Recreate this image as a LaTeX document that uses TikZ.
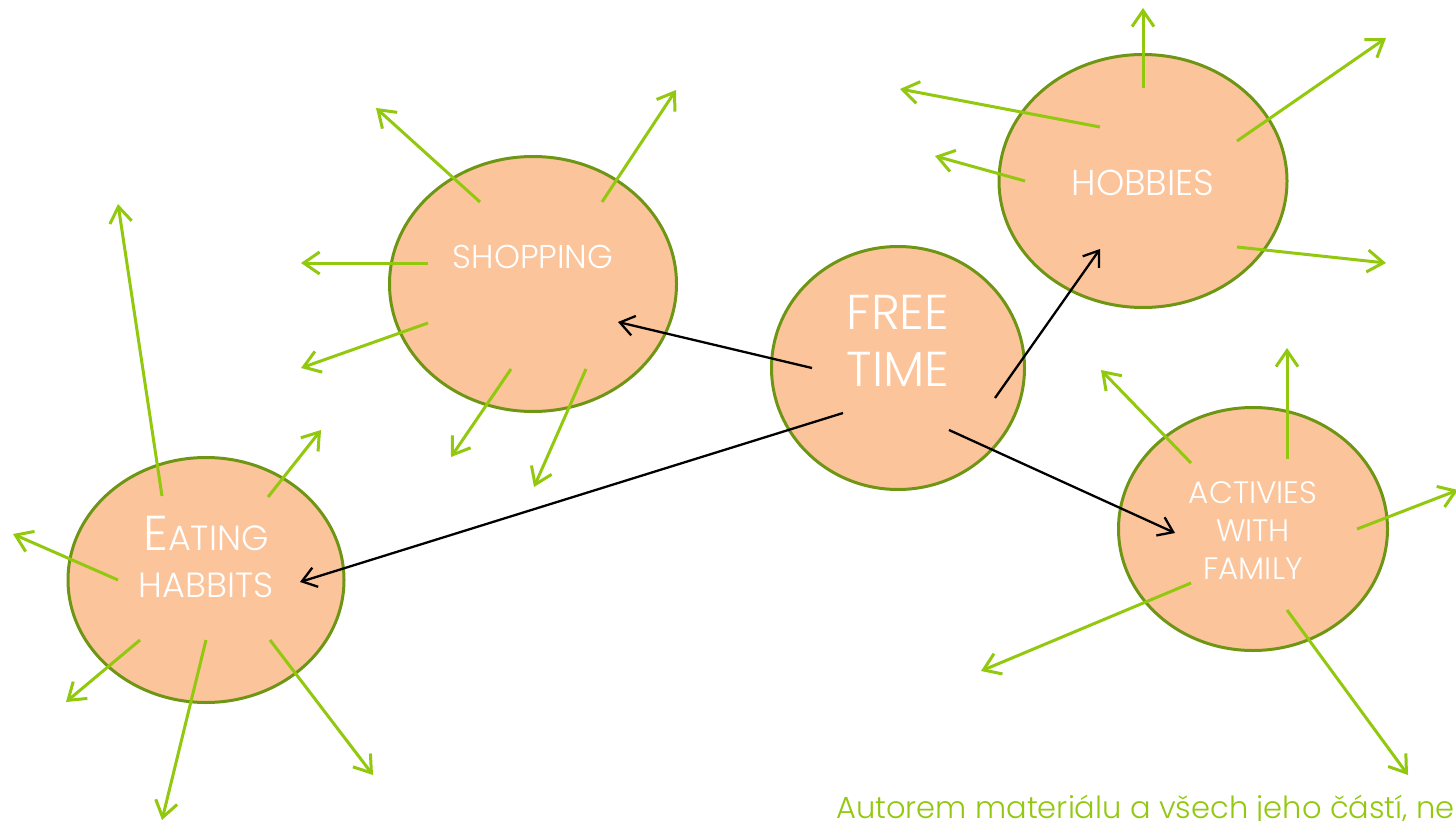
\documentclass[tikz,border=0pt]{standalone}
\usepackage{fontspec}
\IfFontExistsTF{Poppins Light}{\setmainfont{Poppins Light}}{\setmainfont{Poppins}}
\usetikzlibrary{shapes.geometric,arrows.meta,calc}
\definecolor{peach}{RGB}{252,196,154}
\definecolor{olive}{RGB}{110,150,20}
\definecolor{lime}{RGB}{146,200,14}
\tikzset{
 bubble/.style={ellipse, draw=olive, fill=peach, line width=3pt, inner sep=0pt},
 txt/.style={text=white, align=center, inner sep=0pt},
 garrow/.style={draw=lime, line width=3pt, -{Straight Barb[length=16pt,width=22pt]}},
 karrow/.style={draw=black, line width=2.3pt, -{Straight Barb[length=14pt,width=20pt]}},
}
\begin{document}
\begin{tikzpicture}[x=1pt,y=-1pt]
\useasboundingbox (0,0) rectangle (1456,821);
\clip (0,0) rectangle (1456,821);
% bubbles
\node[bubble, minimum width=287pt, minimum height=255pt] (shop) at (533,284) {};
\node[bubble, minimum width=253pt, minimum height=243pt] (free) at (898,368) {};
\node[bubble, minimum width=288pt, minimum height=253pt] (hob) at (1143,181) {};
\node[bubble, minimum width=269pt, minimum height=243pt] (act) at (1253,529) {};
\node[bubble, minimum width=276pt, minimum height=245pt] (eat) at (206,580) {};
% texts
\node[txt, font=\fontsize{33}{36}\selectfont] (shopt) at (533,257) {SHOPPING};
\node[txt, font=\fontsize{49}{57}\selectfont] (freet) at (898,341) {FREE\\TIME};
\node[txt, font=\fontsize{36}{40}\selectfont] (hobt) at (1143,183) {HOBBIES};
\node[txt, font=\fontsize{31}{38}\selectfont] (actt) at (1253,531) {ACTIVIES\\WITH\\FAMILY};
\node[txt, font=\fontsize{35}{47}\selectfont] (eatt) at (206,557) {{\fontsize{49}{47}\selectfont E}ATING\\HABBITS};
% green arrows: shopping
\foreach \a/\b/\c/\d in {-53/-82/-157/-176, 69/-82/143/-194, -105/-21/-232/-21, -105/39/-232/84, -22/85/-82/173, 53/85/1/203}
  \draw[garrow] ($(shop)+(\a,\b)$) -- ($(shop)+(\c,\d)$);
% hobbies
\foreach \a/\b/\c/\d in {0/-93/0/-173, 94/-40/243/-143, -43/-54/-243/-92, -118/0/-208/-25, 94/66/243/82}
  \draw[garrow] ($(hob)+(\a,\b)$) -- ($(hob)+(\c,\d)$);
% activities
\foreach \a/\b/\c/\d in {-62/-66/-152/-159, 34/-70/34/-181, 104/0/205/-39, -62/54/-272/142, 34/81/155/246}
  \draw[garrow] ($(act)+(\a,\b)$) -- ($(act)+(\c,\d)$);
% eating
\foreach \a/\b/\c/\d in {-44/-84/-88/-376, 62/-83/115/-150, -88/0/-193/-46, -66/60/-140/122, 0/60/-44/240, 64/60/167/195}
  \draw[garrow] ($(eat)+(\a,\b)$) -- ($(eat)+(\c,\d)$);
% black arrows
\draw[karrow] ($(free)+(-86,0)$) -- ($(shop)+(85,38)$);
\draw[karrow] ($(free)+(97,30)$) -- ($(hob)+(-43,68)$);
\draw[karrow] ($(free)+(-55,45)$) -- ($(eat)+(94,2)$);
\draw[karrow] ($(free)+(51,62)$) -- ($(act)+(-78,4)$);
% footer
\node[anchor=base west, inner sep=0pt, text=lime, font=\fontsize{30.5}{38}\selectfont] (foot) at (836,818) {Autorem materiálu a všech jeho částí, ne};
\end{tikzpicture}
\end{document}
